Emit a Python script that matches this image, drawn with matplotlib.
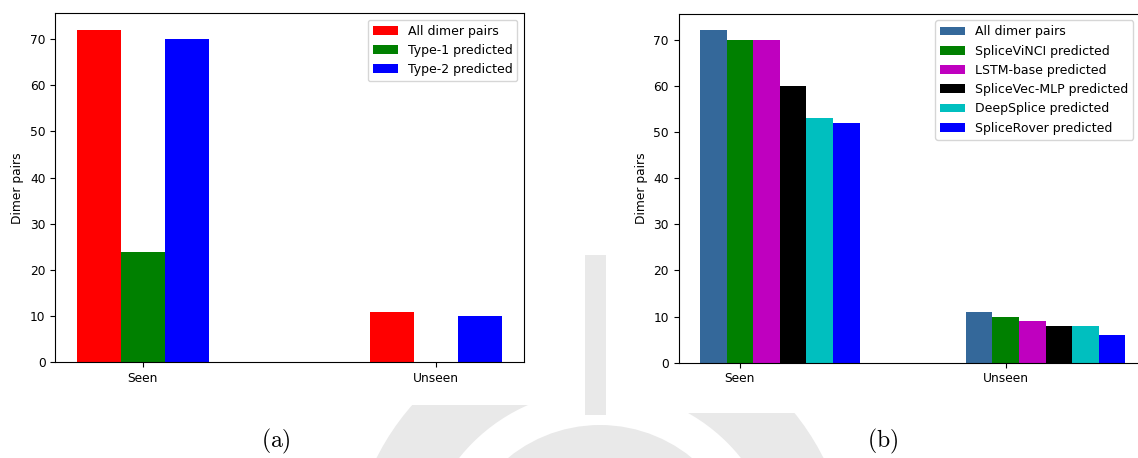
import numpy as np
import matplotlib
matplotlib.use("Agg")
import matplotlib.pyplot as plt
from matplotlib.patches import Circle, Rectangle, Wedge

# ---- data ----
groups = ["Seen", "Unseen"]

labels_a = ["All dimer pairs", "Type-1 predicted", "Type-2 predicted"]
values_a = [
    [72, 11],   # All dimer pairs
    [24, 0],    # Type-1 predicted
    [70, 10],   # Type-2 predicted
]
colors_a = ["#ff0000", "#008000", "#0000ff"]

labels_b = ["All dimer pairs", "SpliceViNCI predicted", "LSTM-base predicted",
            "SpliceVec-MLP predicted", "DeepSplice predicted", "SpliceRover predicted"]
values_b = [
    [72, 11],
    [70, 10],
    [70, 9],
    [60, 8],
    [53, 8],
    [52, 6],
]
colors_b = ["#34689a", "#008000", "#bf00bf", "#000000", "#00bfbf", "#0000ff"]

yticks = [0, 10, 20, 30, 40, 50, 60, 70]
ylabel = "Dimer pairs"
captions = ["(a)", "(b)"]

plt.rcParams["font.family"] = "DejaVu Sans"
plt.rcParams["mathtext.fontset"] = "cm"

W, H = 1138, 458
fig = plt.figure(figsize=(W / 100, H / 100), dpi=100)

def px(x0, y0, w, h):
    return [x0 / W, (H - y0 - h) / H, w / W, h / H]

# ---- faint background watermark (page behind the two sub-figures) ----
bg = fig.add_axes([0, 0, 1, 1], zorder=-5)
bg.set_xlim(0, W)
bg.set_ylim(H, 0)
bg.axis("off")
wm = "#e9e9e9"
bg.add_patch(Wedge((600, 570), 250, 0, 360, width=70, color=wm, lw=0))
bg.add_patch(Circle((600, 570), 145, color=wm, lw=0))
bg.add_patch(Rectangle((585, 255), 21, 160, color=wm, lw=0))
bg.add_patch(Rectangle((0, 0), 585, 405, color="white", lw=0))
bg.add_patch(Rectangle((606, 0), W - 606, 413, color="white", lw=0))

fs = 8.8
lfs = 9.0
x = np.arange(len(groups))

# ---- panel (a) ----
ax1 = fig.add_axes(px(55.3, 13.3, 468.4, 349.0))
wa = 0.15
for i, (lab, vals, col) in enumerate(zip(labels_a, values_a, colors_a)):
    ax1.bar(x + (i - 1) * wa, vals, wa, color=col, label=lab)
ax1.set_xticks(x)
ax1.set_xticklabels(groups)
ax1.set_yticks(yticks)
ax1.set_ylabel(ylabel, fontsize=fs)
ax1.tick_params(labelsize=fs)
ax1.legend(loc="upper right", fontsize=lfs)

# ---- panel (b) ----
ax2 = fig.add_axes(px(678.7, 13.7, 468.0, 349.0))
wb = 0.1
for i, (lab, vals, col) in enumerate(zip(labels_b, values_b, colors_b)):
    ax2.bar(x + (i - 1) * wb, vals, wb, color=col, label=lab)
ax2.set_xticks(x)
ax2.set_xticklabels(groups)
ax2.set_yticks(yticks)
ax2.set_ylabel(ylabel, fontsize=fs)
ax2.tick_params(labelsize=fs)
ax2.spines["right"].set_visible(False)
ax2.legend(loc="upper left", fontsize=lfs, borderaxespad=0,
           bbox_to_anchor=(935 / W, 1 - 20.3 / H), bbox_transform=fig.transFigure)

# ---- captions ----
fig.text(276 / W, 1 - 441 / H, r"$\mathrm{(a)}$", fontsize=17, ha="center", va="center")
fig.text(883 / W, 1 - 441 / H, r"$\mathrm{(b)}$", fontsize=17, ha="center", va="center")

fig.savefig("out.png", dpi=100)
